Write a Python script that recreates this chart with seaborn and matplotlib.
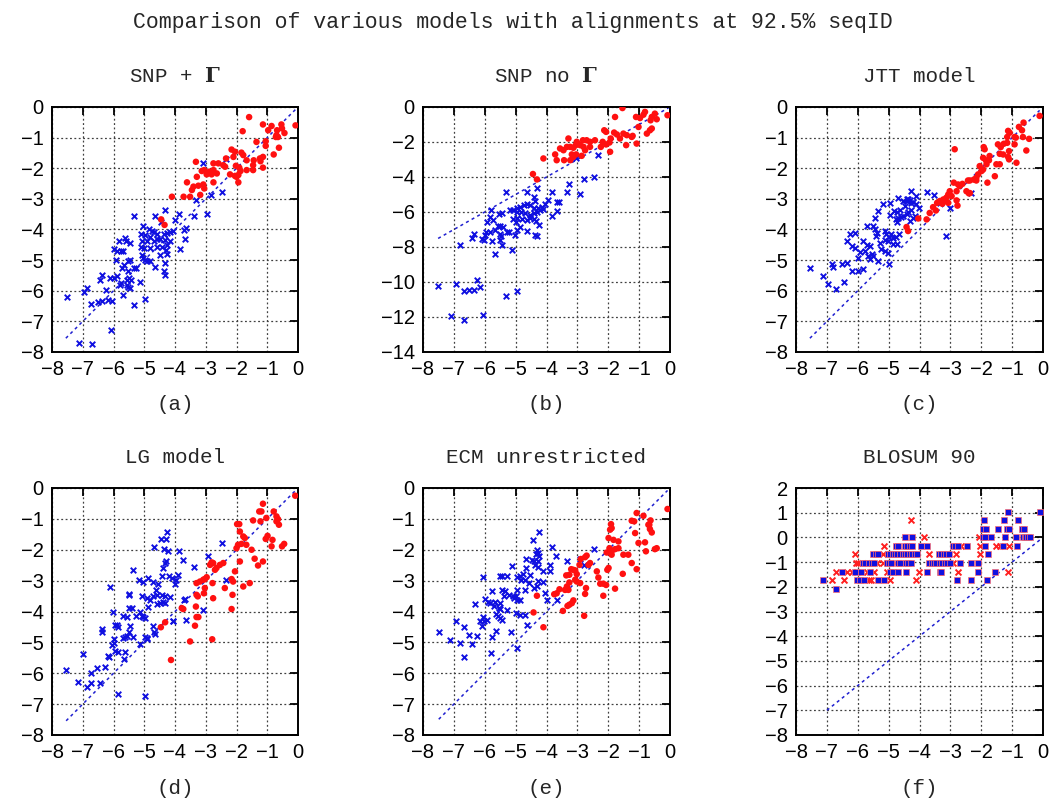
import numpy as np
import pandas as pd
import matplotlib
matplotlib.use("Agg")
import matplotlib.pyplot as plt
import seaborn as sns

a_blue = [(-3.10, -1.82), (-2.35, -1.71), (-2.46, -2.79), (-2.83, -2.87), (-2.95, -3.49), (-3.37, -3.55),
          (-3.31, -3.04), (-3.88, -3.49), (-3.99, -3.69), (-4.34, -3.37), (-4.66, -3.56), (-4.45, -3.74),
          (-5.32, -3.56), (-5.04, -3.88), (-4.85, -3.98), (-4.75, -4.05), (-4.69, -4.09), (-5.12, -4.15),
          (-4.96, -4.18), (-4.80, -4.23), (-4.58, -4.15), (-4.37, -4.15), (-4.26, -4.12), (-4.15, -4.07),
          (-4.07, -4.05), (-3.72, -4.01), (-3.65, -3.94), (-3.67, -4.32), (-4.15, -4.39), (-4.31, -4.34),
          (-4.48, -4.31), (-4.58, -4.31), (-4.69, -4.39), (-4.91, -4.37), (-5.07, -4.39), (-5.12, -4.56),
          (-5.02, -4.61), (-4.80, -4.61), (-4.58, -4.56), (-4.42, -4.56), (-4.26, -4.50), (-4.29, -4.66),
          (-4.48, -4.83), (-4.26, -4.80), (-3.85, -4.64), (-5.61, -4.28), (-5.58, -4.37), (-5.82, -4.36),
          (-5.45, -4.45), (-5.98, -4.64), (-5.88, -4.69), (-5.74, -4.69), (-5.68, -4.70), (-5.93, -4.99),
          (-5.53, -5.02), (-5.47, -4.98), (-5.07, -4.83), (-5.04, -4.93), (-4.91, -5.04), (-4.98, -5.01),
          (-4.80, -5.04), (-4.31, -5.10), (-4.37, -5.37), (-4.31, -5.48), (-4.66, -5.24), (-5.34, -5.26),
          (-5.28, -5.26), (-5.53, -5.35), (-5.66, -5.15), (-5.72, -5.26), (-5.88, -5.53), (-5.98, -5.59),
          (-6.11, -5.59), (-6.36, -5.48), (-5.79, -5.80), (-5.74, -5.75), (-5.55, -5.64), (-5.50, -5.59),
          (-5.42, -5.64), (-5.14, -5.73), (-5.55, -5.82), (-5.45, -5.91), (-5.53, -5.89), (-6.44, -5.66),
          (-6.25, -5.97), (-6.85, -5.91), (-6.95, -6.04), (-5.68, -6.15), (-6.72, -6.43), (-6.52, -6.37),
          (-6.36, -6.34), (-6.17, -6.29), (-6.04, -6.32), (-5.32, -6.45), (-4.96, -6.26), (-7.52, -6.20),
          (-6.09, -7.27), (-7.12, -7.70), (-6.71, -7.73)]
a_red = [(-1.59, -0.33), (-1.14, -0.57), (-0.86, -0.62), (-0.54, -0.57), (-0.52, -0.70), (-0.08, -0.60),
         (-0.97, -0.76), (-0.68, -0.76), (-0.44, -0.85), (-1.80, -0.79), (-1.35, -1.14), (-1.05, -1.12),
         (-0.70, -0.92), (-0.65, -0.98), (-0.72, -0.98), (-1.05, -1.27), (-0.62, -1.33), (-0.79, -1.55),
         (-2.16, -1.39), (-2.05, -1.46), (-1.84, -1.49), (-1.78, -1.57), (-2.10, -1.63), (-1.24, -1.68),
         (-1.14, -1.63), (-1.44, -1.74), (-1.22, -1.77), (-1.67, -1.74), (-2.34, -1.68), (-2.43, -1.90),
         (-2.37, -1.95), (-2.02, -1.92), (-1.91, -1.98), (-1.87, -2.09), (-1.94, -2.22), (-2.00, -2.28),
         (-2.05, -2.25), (-2.21, -2.20), (-1.94, -2.46), (-1.67, -2.06), (-1.46, -2.06), (-1.14, -1.98),
         (-1.46, -1.90), (-3.32, -1.79), (-3.13, -2.09), (-3.05, -2.06), (-2.75, -2.06), (-2.97, -2.20),
         (-2.88, -2.11), (-2.81, -2.20), (-3.29, -2.28), (-3.61, -2.46), (-3.40, -2.60), (-3.24, -2.57),
         (-3.08, -2.53), (-3.05, -2.66), (-2.75, -2.46), (-2.64, -2.17), (-2.59, -1.84), (-2.75, -1.84),
         (-3.45, -2.71), (-3.72, -2.93), (-3.51, -2.93), (-3.18, -2.87), (-4.10, -2.93), (-4.45, -3.67),
         (-4.34, -3.85)]

b_blue = [(-3.05, -2.94), (-2.32, -2.75), (-2.80, -4.12), (-2.45, -4.02), (-3.28, -4.38), (-3.34, -4.88),
          (-2.93, -4.99), (-3.83, -4.84), (-4.64, -4.88), (-4.31, -4.61), (-5.30, -4.84), (-4.42, -5.12),
          (-4.37, -5.37), (-3.67, -5.45), (-3.61, -5.41), (-3.96, -5.33), (-4.04, -5.56), (-4.15, -5.69),
          (-4.26, -5.79), (-4.42, -5.75), (-4.53, -5.60), (-4.64, -5.56), (-4.74, -5.60), (-4.85, -5.69),
          (-4.96, -5.79), (-5.07, -5.88), (-5.18, -5.88), (-4.96, -5.98), (-4.82, -6.02), (-4.69, -6.07),
          (-4.53, -6.17), (-4.42, -6.07), (-4.31, -5.98), (-4.20, -5.88), (-4.10, -5.83), (-3.83, -6.21),
          (-3.67, -5.94), (-4.23, -6.74), (-4.33, -6.51), (-4.42, -6.39), (-4.53, -6.32), (-4.64, -6.45),
          (-4.80, -6.39), (-4.96, -6.32), (-5.07, -6.39), (-4.98, -6.55), (-4.85, -6.83), (-4.96, -7.02),
          (-5.01, -7.31), (-4.64, -7.08), (-4.37, -7.31), (-4.31, -7.40), (-5.79, -5.88), (-5.55, -6.13),
          (-5.44, -6.07), (-5.82, -6.26), (-5.93, -6.55), (-5.74, -6.45), (-5.58, -6.79), (-5.50, -6.79),
          (-5.41, -6.83), (-5.28, -7.12), (-5.23, -7.15), (-5.52, -7.27), (-5.48, -7.40), (-5.50, -7.59),
          (-5.44, -7.87), (-5.68, -7.02), (-5.82, -7.12), (-5.98, -7.31), (-5.95, -7.15), (-6.09, -7.53),
          (-6.04, -7.59), (-5.77, -7.65), (-6.36, -7.27), (-6.42, -7.46), (-6.81, -7.87), (-5.66, -8.41),
          (-5.12, -8.16), (-7.51, -10.21), (-6.92, -10.11), (-6.68, -10.49), (-6.52, -10.44), (-6.36, -10.44),
          (-6.25, -9.87), (-6.17, -10.28), (-5.30, -10.78), (-4.94, -10.49), (-7.09, -11.95), (-6.06, -11.86),
          (-6.68, -12.18)]
b_red = [(-1.54, -0.06), (-1.78, -0.57), (-0.81, -0.28), (-0.86, -0.44), (-0.49, -0.38), (-0.08, -0.47),
         (-1.10, -0.57), (-0.97, -0.63), (-0.63, -0.76), (-0.43, -0.70), (-0.59, -0.57), (-1.02, -1.14),
         (-0.59, -1.23), (-0.65, -1.33), (-0.75, -1.52), (-2.13, -1.33), (-2.07, -1.42), (-1.81, -1.46),
         (-1.51, -1.52), (-1.72, -1.57), (-1.40, -1.61), (-1.24, -1.71), (-1.21, -1.65), (-1.62, -1.80),
         (-1.92, -1.80), (-1.96, -2.03), (-2.07, -2.14), (-2.18, -1.99), (-2.24, -2.28), (-1.94, -2.56),
         (-1.42, -2.18), (-1.08, -2.09), (-2.43, -1.90), (-2.59, -1.99), (-2.70, -1.90), (-2.82, -1.90),
         (-3.02, -1.99), (-3.29, -1.80), (-3.34, -2.28), (-3.23, -2.28), (-3.13, -2.33), (-3.05, -2.18),
         (-2.91, -2.18), (-2.80, -2.28), (-2.75, -2.47), (-2.59, -2.28), (-2.86, -2.79), (-3.04, -2.71),
         (-3.18, -2.71), (-3.45, -2.47), (-3.56, -2.37), (-3.72, -2.71), (-3.67, -3.04), (-3.43, -3.04),
         (-3.23, -3.04), (-3.13, -2.85), (-4.10, -2.94), (-4.44, -3.83), (-4.31, -4.14)]

c_blue = [(-3.77, -2.77), (-3.54, -2.88), (-4.10, -2.91), (-4.26, -2.75), (-4.69, -2.96), (-4.96, -3.13),
          (-5.18, -3.18), (-4.42, -3.02), (-4.40, -3.07), (-4.37, -3.02), (-4.31, -3.05), (-4.26, -3.13),
          (-4.20, -3.10), (-4.53, -3.07), (-4.47, -3.24), (-4.10, -3.18), (-4.01, -3.29), (-4.26, -3.35),
          (-4.37, -3.42), (-4.42, -3.51), (-4.53, -3.56), (-4.60, -3.60), (-4.69, -3.62), (-4.77, -3.67),
          (-4.74, -3.42), (-4.64, -3.35), (-4.83, -3.40), (-4.96, -3.53), (-4.74, -3.75), (-4.31, -3.71),
          (-4.20, -3.62), (-4.15, -3.56), (-5.34, -3.40), (-5.44, -3.62), (-5.71, -3.89), (-5.50, -3.89),
          (-5.44, -4.00), (-5.39, -4.11), (-5.41, -4.22), (-5.12, -4.05), (-5.07, -4.16), (-4.98, -4.25),
          (-4.91, -4.14), (-4.87, -4.27), (-4.77, -4.25), (-4.66, -4.16), (-4.72, -4.47), (-4.85, -4.47),
          (-5.01, -4.38), (-5.12, -4.33), (-5.28, -4.44), (-5.26, -4.65), (-5.12, -4.71), (-5.01, -4.76),
          (-4.98, -5.12), (-5.61, -4.54), (-5.71, -4.49), (-5.82, -4.38), (-5.77, -4.71), (-5.66, -4.87),
          (-5.61, -4.95), (-5.50, -4.87), (-5.55, -4.80), (-5.93, -4.73), (-5.98, -4.93), (-6.09, -4.60),
          (-6.20, -4.54), (-6.25, -4.16), (-6.09, -4.11), (-6.34, -4.38), (-5.98, -5.36), (-5.82, -5.28),
          (-6.20, -5.34), (-6.36, -5.09), (-6.52, -5.14), (-6.85, -5.14), (-6.79, -5.23), (-6.45, -5.71),
          (-6.71, -5.94), (-6.95, -5.77), (-7.14, -5.53), (-7.55, -5.25), (-5.34, -5.04), (-3.13, -4.22),
          (-2.34, -2.82), (-3.00, -3.31), (-3.34, -3.13)]
c_red = [(-0.11, -0.29), (-0.63, -0.51), (-0.78, -0.65), (-0.68, -0.76), (-0.92, -0.98), (-0.88, -1.00),
         (-1.13, -0.78), (-1.08, -0.84), (-1.16, -0.98), (-0.92, -1.22), (-0.45, -1.04), (-0.65, -0.98),
         (-0.86, -1.82), (-0.54, -1.42), (-1.27, -1.20), (-1.46, -1.22), (-1.37, -1.31), (-1.16, -1.17),
         (-1.29, -1.55), (-1.10, -1.44), (-1.13, -1.63), (-1.40, -1.53), (-1.10, -1.71), (-1.40, -1.87),
         (-1.51, -1.87), (-1.73, -1.60), (-1.75, -1.74), (-1.92, -1.31), (-1.89, -1.38), (-1.94, -1.66),
         (-1.85, -1.74), (-1.83, -1.87), (-1.94, -2.04), (-2.05, -1.93), (-1.99, -2.09), (-2.10, -2.20),
         (-2.16, -2.31), (-2.24, -2.37), (-2.37, -2.40), (-2.43, -2.40), (-2.16, -2.40), (-1.80, -2.47),
         (-1.56, -2.26), (-2.86, -1.38), (-2.89, -2.47), (-2.75, -2.53), (-2.70, -2.58), (-2.61, -2.51),
         (-2.80, -2.75), (-2.48, -2.75), (-2.40, -2.82), (-2.37, -2.81), (-3.02, -2.75), (-3.07, -2.86),
         (-2.96, -2.91), (-3.13, -2.96), (-3.23, -3.02), (-3.34, -3.07), (-3.43, -3.13), (-3.26, -3.16),
         (-3.18, -3.07), (-3.07, -3.13), (-2.80, -3.05), (-2.77, -3.22), (-3.56, -3.27), (-3.47, -3.38),
         (-3.77, -3.67), (-4.04, -3.64), (-4.42, -3.92), (-4.37, -4.05), (-3.67, -3.46)]

d_blue = [(-4.27, -1.41), (-4.46, -1.65), (-4.30, -1.65), (-4.68, -1.91), (-4.35, -1.98), (-4.22, -2.05),
          (-3.87, -2.03), (-3.73, -2.32), (-2.46, -1.78), (-2.94, -2.19), (-3.37, -2.56), (-2.35, -2.97),
          (-4.29, -2.36), (-4.32, -2.43), (-4.38, -2.59), (-4.43, -2.84), (-4.18, -2.84), (-4.11, -2.92),
          (-3.89, -2.81), (-5.35, -2.65), (-5.16, -2.99), (-5.03, -3.03), (-4.89, -2.90), (-4.72, -3.03),
          (-4.54, -3.10), (-6.11, -3.22), (-5.51, -3.43), (-5.49, -3.46), (-5.08, -3.51), (-4.92, -3.57),
          (-4.81, -3.62), (-4.70, -3.51), (-4.62, -3.30), (-4.57, -3.46), (-4.43, -3.46), (-4.32, -3.51),
          (-4.38, -3.68), (-4.32, -3.73), (-4.49, -3.73), (-4.59, -3.75), (-4.16, -3.54), (-4.00, -3.11),
          (-3.97, -2.97), (-3.68, -3.60), (-3.70, -3.64), (-3.08, -3.95), (-3.65, -4.27), (-4.08, -4.32),
          (-5.48, -3.89), (-5.41, -3.89), (-4.89, -3.86), (-5.14, -4.03), (-5.26, -4.16), (-5.08, -4.16),
          (-5.03, -4.18), (-4.97, -4.22), (-5.57, -4.19), (-5.70, -4.14), (-6.02, -4.02), (-5.95, -4.43),
          (-5.89, -4.43), (-5.84, -4.49), (-5.46, -4.46), (-5.48, -4.65), (-5.62, -4.81), (-5.70, -4.86),
          (-5.57, -4.79), (-5.37, -4.81), (-6.00, -4.90), (-5.98, -5.03), (-6.05, -5.08), (-4.72, -4.46),
          (-4.68, -4.68), (-4.65, -4.72), (-4.97, -4.81), (-4.92, -4.86), (-4.90, -4.90), (-5.14, -5.06),
          (-6.38, -4.57), (-6.36, -4.65), (-5.95, -5.28), (-5.84, -5.30), (-5.62, -5.30), (-6.16, -5.46),
          (-6.19, -5.44), (-5.65, -5.55), (-6.99, -5.37), (-6.29, -5.81), (-6.54, -5.82), (-7.54, -5.89),
          (-6.74, -5.98), (-7.14, -6.27), (-6.86, -6.45), (-6.74, -6.32), (-6.45, -6.32), (-5.84, -6.67),
          (-4.97, -6.74), (-4.05, -4.32)]
d_red = [(-0.09, -0.25), (-1.14, -0.51), (-1.26, -0.76), (-1.19, -0.76), (-1.46, -1.05), (-1.22, -1.08),
         (-1.03, -0.97), (-0.79, -0.76), (-0.70, -0.92), (-0.65, -1.01), (-0.70, -1.08), (-0.62, -1.19),
         (-1.98, -1.17), (-1.91, -1.17), (-1.89, -1.41), (-1.78, -1.57), (-1.73, -1.62), (-1.84, -1.81),
         (-1.95, -1.84), (-2.00, -1.95), (-1.68, -1.84), (-1.51, -2.00), (-1.05, -1.65), (-0.99, -1.55),
         (-0.83, -1.68), (-0.86, -1.89), (-0.52, -1.89), (-0.45, -1.81), (-1.41, -2.29), (-1.14, -2.38),
         (-1.30, -2.51), (-1.89, -2.38), (-2.05, -2.70), (-2.16, -2.95), (-2.11, -3.03), (-1.78, -3.19),
         (-1.57, -3.08), (-2.38, -3.24), (-2.13, -3.46), (-2.16, -3.92), (-2.76, -3.57), (-3.06, -3.41),
         (-3.03, -3.24), (-3.30, -3.08), (-3.19, -3.03), (-3.08, -2.97), (-3.03, -2.95), (-2.97, -2.89),
         (-2.81, -2.41), (-2.76, -2.43), (-2.86, -2.49), (-2.70, -2.65), (-2.65, -2.59), (-2.54, -2.49),
         (-2.43, -2.43), (-2.78, -3.08), (-3.30, -3.46), (-3.26, -3.51), (-3.32, -3.84), (-3.24, -4.18),
         (-3.30, -4.18), (-3.35, -4.46), (-3.73, -3.92), (-3.78, -3.89), (-3.51, -4.97), (-2.79, -4.90),
         (-4.13, -5.57), (-4.32, -4.35), (-4.46, -4.51)]

e_blue = [(-4.23, -1.44), (-4.44, -1.70), (-3.83, -1.91), (-4.31, -2.00), (-4.26, -2.09), (-4.33, -2.13),
          (-4.23, -2.19), (-4.66, -2.30), (-4.47, -2.32), (-4.42, -2.38), (-4.29, -2.38), (-4.37, -2.49),
          (-4.26, -2.56), (-4.12, -2.70), (-3.90, -2.49), (-3.90, -2.70), (-3.70, -2.19), (-3.34, -2.38),
          (-2.91, -2.30), (-2.80, -2.49), (-2.45, -1.97), (-5.12, -2.52), (-4.66, -2.59), (-4.77, -2.78),
          (-4.85, -2.86), (-4.96, -2.89), (-4.83, -2.99), (-4.69, -2.97), (-4.53, -2.81), (-4.58, -3.08),
          (-4.42, -3.24), (-4.31, -3.19), (-4.28, -3.01), (-4.10, -3.06), (-4.04, -3.41), (-3.99, -3.62),
          (-3.67, -3.62), (-5.50, -2.86), (-5.44, -2.84), (-5.28, -2.84), (-6.06, -2.89), (-5.44, -3.30),
          (-5.34, -3.33), (-5.37, -3.49), (-5.23, -3.48), (-5.07, -3.51), (-4.96, -3.30), (-4.98, -3.51),
          (-5.05, -3.57), (-4.96, -3.64), (-4.85, -3.62), (-4.69, -3.30), (-5.77, -3.33), (-5.91, -3.68),
          (-5.82, -3.73), (-5.71, -3.82), (-5.66, -3.68), (-5.98, -3.60), (-5.52, -3.73), (-5.50, -3.92),
          (-5.28, -3.95), (-5.63, -4.09), (-5.58, -4.14), (-5.50, -4.22), (-5.44, -4.27), (-5.55, -3.89),
          (-6.06, -4.18), (-6.15, -4.32), (-6.02, -4.32), (-5.93, -4.27), (-5.77, -4.81), (-6.31, -3.75),
          (-6.92, -4.32), (-6.68, -4.49), (-6.09, -4.46), (-5.63, -4.62), (-5.15, -4.68), (-4.98, -4.05),
          (-4.87, -4.11), (-4.69, -4.11), (-4.64, -4.43), (-4.94, -5.19), (-7.49, -4.68), (-7.12, -4.92),
          (-6.81, -5.01), (-6.52, -4.76), (-6.42, -5.05), (-6.25, -4.79), (-6.68, -5.46), (-5.79, -5.35)]
e_red = [(-0.08, -0.68), (-1.08, -0.81), (-1.24, -1.06), (-1.16, -1.08), (-0.86, -0.90), (-0.63, -1.05),
         (-0.67, -1.19), (-0.65, -1.33), (-0.59, -1.44), (-0.70, -1.19), (-1.91, -1.17), (-1.89, -1.30),
         (-1.94, -1.35), (-1.83, -1.68), (-1.67, -1.73), (-1.13, -1.46), (-1.02, -1.78), (-0.81, -1.76),
         (-0.78, -2.05), (-0.49, -1.98), (-0.43, -1.95), (-1.99, -1.62), (-1.96, -1.95), (-1.89, -2.05),
         (-1.78, -1.98), (-1.67, -1.95), (-1.89, -2.16), (-2.05, -2.09), (-1.51, -2.16), (-1.35, -2.16),
         (-1.24, -2.43), (-1.08, -2.63), (-1.53, -2.78), (-1.78, -3.26), (-1.99, -2.59), (-2.03, -2.65),
         (-2.37, -2.70), (-2.32, -2.90), (-2.26, -3.10), (-2.16, -3.10), (-2.07, -3.14), (-2.16, -3.49),
         (-2.70, -2.19), (-2.64, -2.49), (-2.59, -2.43), (-2.75, -2.24), (-2.89, -2.30), (-2.93, -2.49),
         (-3.13, -2.65), (-3.07, -2.67), (-3.02, -2.79), (-3.20, -2.63), (-3.26, -2.81), (-3.07, -2.97),
         (-3.02, -3.03), (-2.91, -3.08), (-3.36, -2.83), (-3.26, -3.06), (-3.34, -3.19), (-3.40, -3.30),
         (-3.29, -3.30), (-3.58, -3.28), (-3.67, -3.41), (-3.75, -3.44), (-2.72, -3.24), (-2.75, -3.43),
         (-3.13, -3.64), (-3.18, -3.73), (-3.26, -3.78), (-3.32, -3.82), (-3.47, -3.98), (-2.78, -4.14),
         (-4.31, -3.49), (-4.42, -4.03), (-4.10, -4.51)]

# BLOSUM 90: valores discretos en y
f_blue = [(-1.12, 1.04), (-0.09, 1.04),
          (-1.91, 0.69), (-1.26, 0.69), (-0.81, 0.69),
          (-1.94, 0.35), (-1.83, 0.35), (-1.46, 0.35), (-1.16, 0.35), (-1.10, 0.35), (-0.67, 0.35), (-0.63, 0.35),
          (-4.47, 0.0), (-4.23, 0.0), (-1.94, 0.0), (-1.89, 0.0), (-1.67, 0.0), (-1.24, 0.0), (-0.86, 0.0),
          (-0.65, 0.0), (-0.59, 0.0), (-0.54, 0.0), (-0.49, 0.0), (-0.43, 0.0),
          (-4.77, -0.35), (-4.69, -0.35), (-4.47, -0.35), (-4.40, -0.35), (-4.31, -0.35), (-4.23, -0.35),
          (-3.94, -0.35), (-3.75, -0.35), (-2.93, -0.35), (-2.86, -0.35), (-2.75, -0.35), (-2.46, -0.35),
          (-1.89, -0.35), (-1.29, -0.35), (-0.84, -0.35),
          (-5.50, -0.69), (-5.41, -0.69), (-5.34, -0.69), (-5.01, -0.69), (-4.94, -0.69), (-4.87, -0.69),
          (-4.80, -0.69), (-4.72, -0.69), (-4.64, -0.69), (-4.55, -0.69), (-4.47, -0.69), (-4.40, -0.69),
          (-4.31, -0.69), (-4.23, -0.69), (-4.15, -0.69), (-4.08, -0.69), (-3.36, -0.69), (-3.29, -0.69),
          (-3.21, -0.69), (-3.13, -0.69), (-3.04, -0.69), (-1.78, -0.69),
          (-5.84, -1.04), (-5.77, -1.04), (-5.63, -1.04), (-5.55, -1.04), (-5.48, -1.04), (-5.05, -1.04),
          (-4.98, -1.04), (-4.91, -1.04), (-4.69, -1.04), (-4.62, -1.04), (-4.44, -1.04), (-4.37, -1.04),
          (-4.29, -1.04), (-3.69, -1.04), (-3.61, -1.04), (-3.54, -1.04), (-3.45, -1.04), (-3.34, -1.04),
          (-3.26, -1.04), (-3.18, -1.04), (-3.11, -1.04), (-3.02, -1.04), (-2.70, -1.04), (-2.32, -1.04),
          (-2.10, -1.04),
          (-6.52, -1.39), (-6.09, -1.39), (-5.88, -1.39), (-5.61, -1.39), (-4.94, -1.39), (-4.85, -1.39),
          (-4.69, -1.39), (-4.44, -1.39), (-3.75, -1.39), (-3.34, -1.39), (-3.29, -1.39), (-2.10, -1.39),
          (-1.56, -1.39),
          (-7.12, -1.73), (-6.02, -1.73), (-5.93, -1.73), (-5.80, -1.73), (-5.34, -1.73), (-5.15, -1.73),
          (-2.78, -1.73), (-2.34, -1.73), (-1.81, -1.73),
          (-6.71, -2.08)]
f_red = [(-4.26, 0.69),
         (-3.86, 0.0), (-2.07, 0.0),
         (-5.15, -0.35), (-2.67, -0.35), (-2.05, -0.35), (-1.53, -0.35), (-1.40, -0.35), (-1.10, -0.35),
         (-6.09, -0.69), (-5.18, -0.69), (-3.69, -0.69), (-2.82, -0.69), (-2.05, -0.69),
         (-6.06, -1.04), (-5.98, -1.04), (-5.69, -1.04), (-5.37, -1.04), (-5.18, -1.04), (-4.80, -1.04),
         (-4.55, -1.04), (-2.93, -1.04),
         (-6.71, -1.39), (-6.34, -1.39), (-6.20, -1.39), (-6.02, -1.39), (-5.71, -1.39), (-5.48, -1.39),
         (-5.05, -1.39), (-4.01, -1.39), (-2.75, -1.39), (-1.13, -1.39),
         (-6.85, -1.73), (-6.45, -1.73), (-5.63, -1.73), (-5.58, -1.73), (-4.96, -1.73), (-4.12, -1.73)]

# extremos de la diagonal y = x en cada panel
diag_ends = {'a': [-7.55, -0.08], 'b': [-7.51, -0.05], 'c': [-7.55, -0.11],
             'd': [-7.54, -0.09], 'e': [-7.49, -0.08], 'f': [-7.0, -0.05]}

titulos = {'a': 'SNP + $\\mathbf{\\Gamma}$', 'b': 'SNP no $\\mathbf{\\Gamma}$', 'c': 'JTT model',
           'd': 'LG model', 'e': 'ECM unrestricted', 'f': 'BLOSUM 90'}
y_limits = {'a': (-8, 0), 'b': (-14, 0), 'c': (-8, 0), 'd': (-8, 0), 'e': (-8, 0), 'f': (-8, 2)}
y_step = {'a': 1, 'b': 2, 'c': 1, 'd': 1, 'e': 1, 'f': 1}
datos = {'a': (a_blue, a_red), 'b': (b_blue, b_red), 'c': (c_blue, c_red),
         'd': (d_blue, d_red), 'e': (e_blue, e_red), 'f': (f_blue, f_red)}

sns.set_style('white')
plt.rcParams['font.family'] = ['Liberation Sans', 'DejaVu Sans']
plt.rcParams['mathtext.fontset'] = 'dejavuserif'
MONO = ['Liberation Mono', 'DejaVu Sans Mono']

fig = plt.figure(figsize=(10.58, 8), dpi=100)

# posiciones de los ejes en pixeles (izq, arriba, der, abajo)
cajas = {'a': (52, 107, 298, 352), 'b': (423, 107, 670, 352), 'c': (796, 107, 1043, 352),
         'd': (52, 488, 298, 735), 'e': (423, 488, 670, 735), 'f': (796, 488, 1043, 735)}

W, H = 1058, 800
for key, (l, t, r, b) in cajas.items():
    ax = fig.add_axes([l / W, 1 - b / H, (r - l) / W, (b - t) / H])
    blue, red = datos[key]
    df_b = pd.DataFrame(blue, columns=['x', 'y'])
    df_r = pd.DataFrame(red, columns=['x', 'y'])

    # diagonal
    ax.plot(diag_ends[key], diag_ends[key], color='#2020d0', lw=1.1, ls=(0, (2, 2.2)), zorder=2)

    if key == 'f':
        sns.scatterplot(data=df_r, x='x', y='y', ax=ax, marker='x', color='#ff2020',
                        s=18, linewidth=1.4, zorder=3)
        sns.scatterplot(data=df_b, x='x', y='y', ax=ax, marker='s', color='#1010e0',
                        edgecolor='#ff7070', s=16, linewidth=0.5, zorder=4)
    else:
        sns.scatterplot(data=df_b, x='x', y='y', ax=ax, marker='x', color='#1010e0',
                        s=16, linewidth=1.4, zorder=3)
        sns.scatterplot(data=df_r, x='x', y='y', ax=ax, marker='o', color='#ff1010',
                        edgecolor='none', s=22, zorder=4)

    ymin, ymax = y_limits[key]
    ax.set_xlim(-8, 0)
    ax.set_ylim(ymin, ymax)
    ax.set_xticks(np.arange(-8, 1, 1))
    ax.set_yticks(np.arange(ymin, ymax + 1, y_step[key]))
    ax.set_xlabel('')
    ax.set_ylabel('')
    ax.grid(True, color='#404040', ls=(0, (1.5, 2)), lw=0.9)
    ax.set_axisbelow(True)
    ax.tick_params(direction='in', length=6, width=1.3, top=True, right=True,
                   labelsize=14.5, pad=6, colors='black')
    for sp in ax.spines.values():
        sp.set_linewidth(1.4)
        sp.set_color('black')
    ax.set_title(titulos[key], family=MONO, fontsize=15, pad=18)
    ax.text(0.5, -0.215, f'({key})', transform=ax.transAxes, ha='center', va='center',
            family=MONO, fontsize=15)

fig.text(0.485, 0.972, 'Comparison of various models with alignments at 92.5% seqID',
         ha='center', va='center', family=MONO, fontsize=15.5)

plt.savefig('out.png', dpi=100)
